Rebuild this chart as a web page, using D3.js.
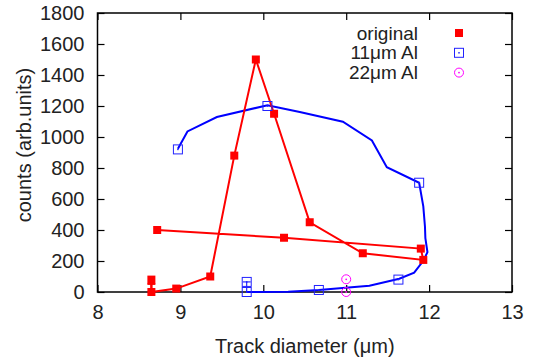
<!DOCTYPE html>
<html>
<head>
<meta charset="utf-8">
<script src="https://cdn.jsdelivr.net/npm/d3@7"></script>
<style>
  body { margin: 0; background: #fff; }
  text { font-family: "Liberation Sans", Arial, sans-serif; fill: #222; }
</style>
</head>
<body>
<div id="chart"></div>
<script>
// original: one connected polyline with filled squares
var origX = [8.65, 8.65, 8.95, 9.36, 9.65, 9.91, 10.13, 10.56, 11.2, 11.93, 11.9, 10.25, 8.72];
var origY = [80, 0, 22, 100, 880, 1500, 1150, 450, 250, 207, 280, 350, 400];

// 11um Al: smooth blue curve (line only) + open squares
var curveX = [9.8, 10.3, 10.67, 11.28, 11.64, 11.82, 11.93, 11.98, 11.955, 11.95, 11.93, 11.88, 11.49, 11.31, 10.96, 10.44, 10.05, 9.44, 9.085, 8.97];
var curveY = [0, 2, 13, 41, 86, 125, 201, 257, 348, 423, 552, 705, 805, 978, 1099, 1161, 1205, 1129, 1036, 924];
var al11X = [8.97, 10.05, 11.88, 11.63, 10.67, 9.8, 9.8];
var al11Y = [920, 1200, 705, 80, 13, 65, 0];

// 22um Al: open circles
var al22X = [11.0, 11.0];
var al22Y = [82, 0];

// error bars (x, low, high)
var errX = [8.65, 9.8];
var errLo = [0, 0];
var errHi = [52, 65];
var errColor = ["#ff0000", "#0000ff"];

var xTicks = [8, 9, 10, 11, 12, 13];
var yTicks = [0, 200, 400, 600, 800, 1000, 1200, 1400, 1600, 1800];

(function () {
    var W = 535, H = 360;
    var mLeft = 97.5, mRight = 512, mTop = 13, mBottom = 292;

    var svg = d3.select("#chart").append("svg")
        .attr("width", W).attr("height", H);

    var x = d3.scaleLinear().domain([8, 13]).range([mLeft, mRight]);
    var y = d3.scaleLinear().domain([0, 1800]).range([mBottom, mTop]);

    // axes with inward ticks on all four sides
    var fs = 20;
    svg.append("g")
        .attr("transform", "translate(0," + mBottom + ")")
        .call(d3.axisBottom(x).tickValues(xTicks).tickSize(-7).tickPadding(13).tickFormat(d3.format("d")))
        .call(g => g.select(".domain").remove())
        .selectAll("text").style("font-size", fs + "px").attr("fill", "#222");
    svg.append("g")
        .attr("transform", "translate(0," + mTop + ")")
        .call(d3.axisTop(x).tickValues(xTicks).tickSize(-7).tickFormat(""))
        .call(g => g.select(".domain").remove());
    svg.append("g")
        .attr("transform", "translate(" + mLeft + ",0)")
        .call(d3.axisLeft(y).tickValues(yTicks).tickSize(-7).tickPadding(13).tickFormat(d3.format("d")))
        .call(g => g.select(".domain").remove())
        .selectAll("text").style("font-size", fs + "px").attr("fill", "#222");
    svg.append("g")
        .attr("transform", "translate(" + mRight + ",0)")
        .call(d3.axisRight(y).tickValues(yTicks).tickSize(-7).tickFormat(""))
        .call(g => g.select(".domain").remove());
    svg.selectAll(".tick line").attr("stroke", "#000").attr("stroke-width", 1.2);

    // frame
    svg.append("rect")
        .attr("x", mLeft).attr("y", mTop)
        .attr("width", mRight - mLeft).attr("height", mBottom - mTop)
        .attr("fill", "none").attr("stroke", "#000").attr("stroke-width", 1.5);

    // axis labels
    svg.append("text")
        .attr("x", (mLeft + mRight) / 2).attr("y", 353)
        .attr("text-anchor", "middle").style("font-size", fs + "px")
        .text("Track diameter (μm)");
    svg.append("text")
        .attr("transform", "translate(31,145) rotate(-90)")
        .attr("text-anchor", "middle").style("font-size", fs + "px")
        .text("counts (arb.units)");

    var line = d3.line().x(d => x(d[0])).y(d => y(d[1]));

    // blue curve
    svg.append("path")
        .datum(d3.zip(curveX, curveY))
        .attr("d", line)
        .attr("fill", "none").attr("stroke", "#0000ff").attr("stroke-width", 2);

    // red polyline
    svg.append("path")
        .datum(d3.zip(origX, origY))
        .attr("d", line)
        .attr("fill", "none").attr("stroke", "#ff0000").attr("stroke-width", 2);

    // error bars
    errX.forEach(function (ex, i) {
        var g = svg.append("g").attr("stroke", errColor[i]).attr("stroke-width", i === 0 ? 2 : 1);
        g.append("line").attr("x1", x(ex)).attr("x2", x(ex)).attr("y1", y(errLo[i])).attr("y2", y(errHi[i]));
        g.append("line").attr("x1", x(ex) - 4).attr("x2", x(ex) + 4).attr("y1", y(errHi[i])).attr("y2", y(errHi[i]));
    });

    // markers
    var sq = 8;
    svg.selectAll(".orig").data(d3.zip(origX, origY)).enter().append("rect")
        .attr("x", d => x(d[0]) - sq / 2).attr("y", d => y(d[1]) - sq / 2)
        .attr("width", sq).attr("height", sq).attr("fill", "#ff0000");

    function openSquare(g, cx, cy) {
        g.append("rect").attr("x", cx - 4.5).attr("y", cy - 4.5).attr("width", 9).attr("height", 9)
            .attr("fill", "none").attr("stroke", "#2222ff").attr("stroke-width", 1);
        g.append("rect").attr("x", cx - 0.75).attr("y", cy - 0.75).attr("width", 1.5).attr("height", 1.5).attr("fill", "#2222ff");
    }
    function openCircle(g, cx, cy) {
        g.append("circle").attr("cx", cx).attr("cy", cy).attr("r", 4.5)
            .attr("fill", "none").attr("stroke", "#ff00ff").attr("stroke-width", 1);
        g.append("circle").attr("cx", cx).attr("cy", cy).attr("r", 0.9).attr("fill", "#ff00ff");
    }
    var mg = svg.append("g");
    d3.zip(al11X, al11Y).forEach(d => openSquare(mg, x(d[0]), y(d[1])));
    d3.zip(al22X, al22Y).forEach(d => openCircle(mg, x(d[0]), y(d[1])));

    // legend
    var legend = ["original", "11μm Al", "22μm Al"];
    var lg = svg.append("g");
    legend.forEach(function (name, i) {
        var ly = 33 + i * 19.8;
        lg.append("text").attr("x", 418).attr("y", ly).attr("dy", "0.35em")
            .attr("text-anchor", "end").style("font-size", "19px").text(name);
        if (i === 0) {
            lg.append("rect").attr("x", 459 - sq / 2).attr("y", ly - sq / 2)
                .attr("width", sq).attr("height", sq).attr("fill", "#ff0000");
        } else if (i === 1) {
            openSquare(lg, 459, ly);
        } else {
            openCircle(lg, 459, ly);
        }
    });
})();
</script>
</body>
</html>
